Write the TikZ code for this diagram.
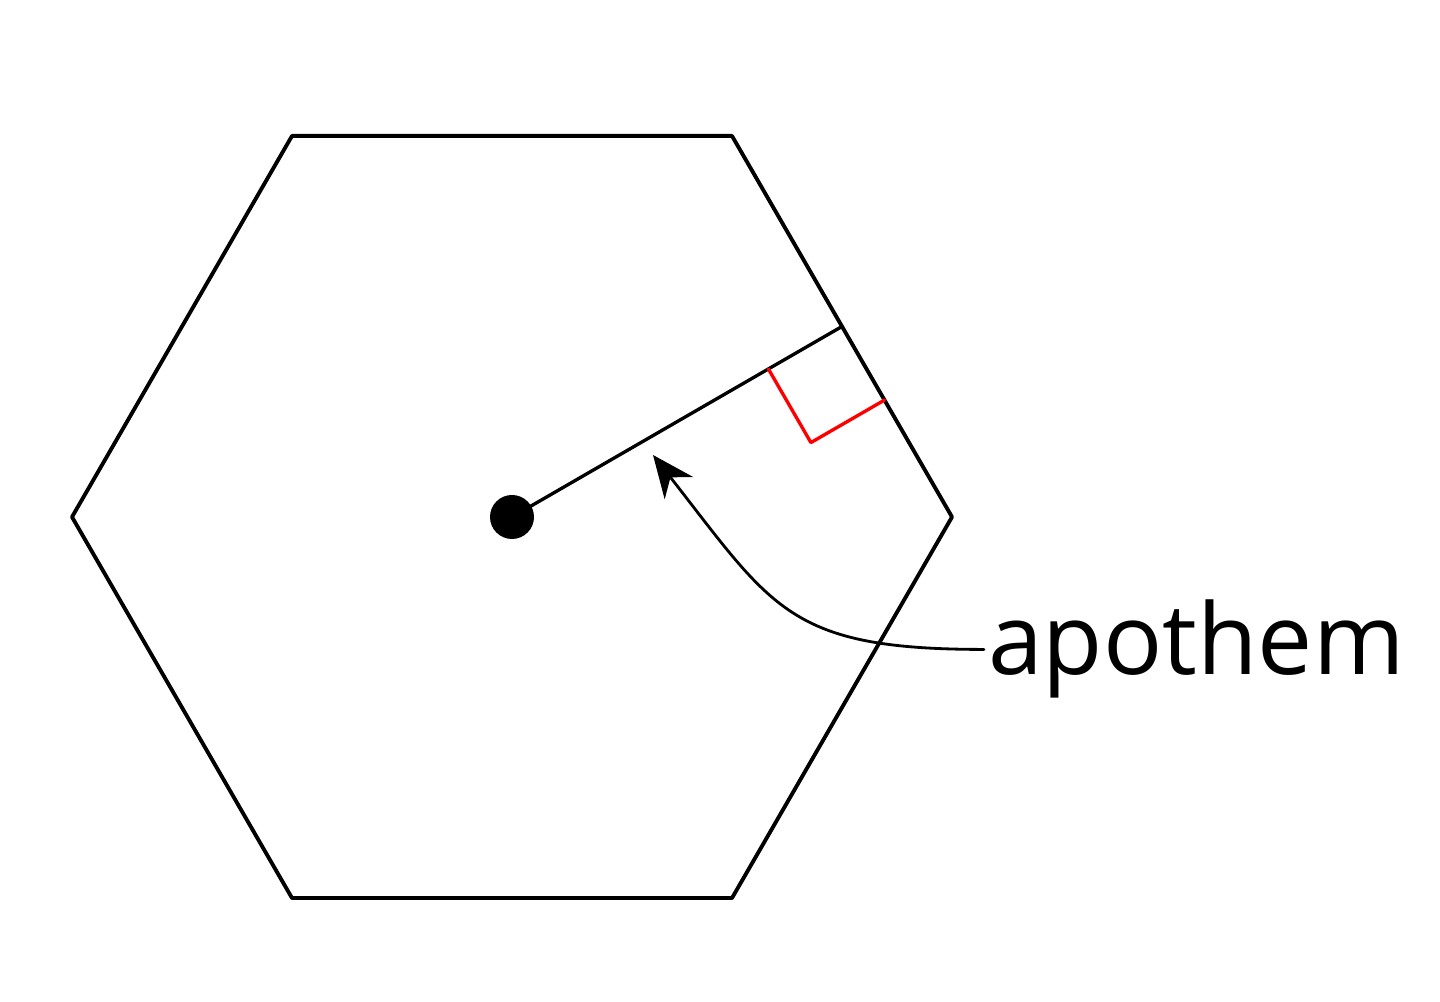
\documentclass[tikz,border=0pt]{standalone}
\usepackage{fontspec}
\setmainfont{Open Sans}
\usetikzlibrary{arrows.meta,calc}
\begin{document}
\begin{tikzpicture}[>={Stealth[length=4.2mm,width=3.6mm]}, line join=round, line cap=round]
            \def\R{4.40} \def\s{0.85} % radius, mark size
            \useasboundingbox (0,0) rectangle (14.4,10.02);
            \coordinate (O) at (5.12,4.85);
            \draw[line width=1.1pt] ($(O)+(0:\R)$) \foreach \t in {60,120,...,300} {-- ($(O)+(\t:\R)$)} -- cycle;
            \coordinate (H) at ($(O)+(30:{\R*cos(30)})$);
            \draw[line width=0.95pt] (O)--(H);
            \fill (O) circle (0.22);
            \draw[red, line width=0.95pt] ($(H)+(210:\s)$) -- ++(300:\s) -- ++(30:\s);
            \node (lbl) [anchor=base west, inner sep=1pt, font=\fontsize{28}{33}\selectfont] at (9.84,3.27) {apothem};
            \coordinate (tip) at (6.53,5.47);
            \draw[->, line width=0.8pt] (lbl.west) to[out=180, in=-52, looseness=1.3] (tip);
        \end{tikzpicture}
\end{document}
